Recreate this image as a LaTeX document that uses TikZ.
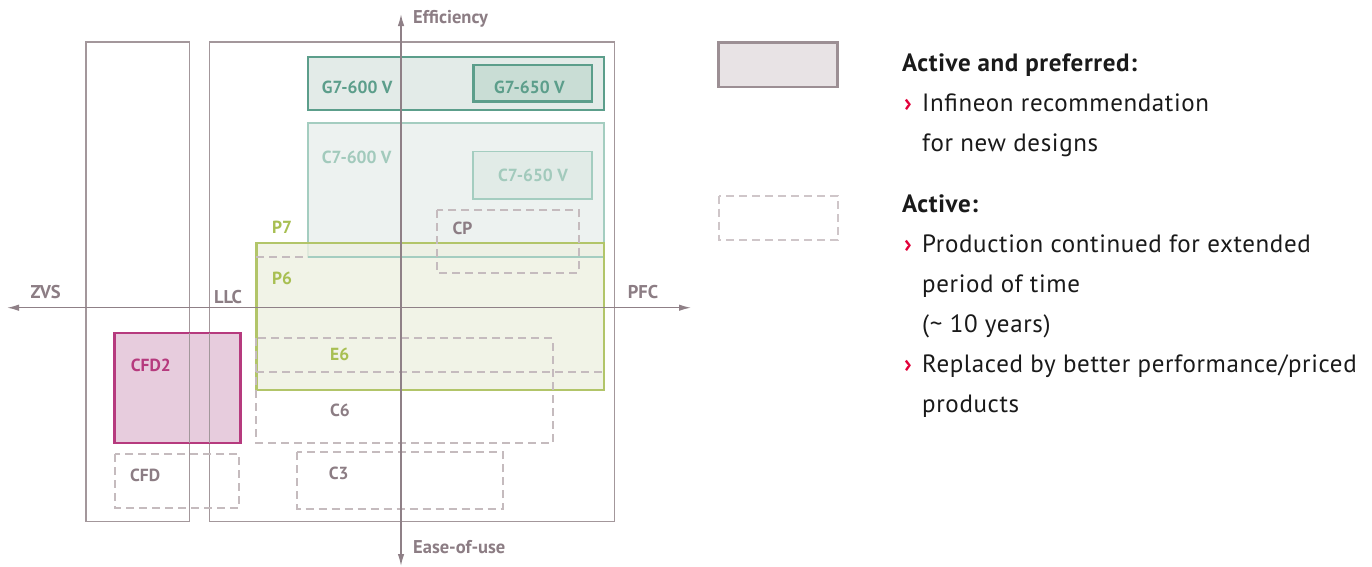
\documentclass[tikz,border=0pt]{standalone}
\usepackage{fontspec}
\setmainfont{PT Sans}
\newfontfamily\legfont{PT Sans}[LetterSpace=2.5]
\usetikzlibrary{arrows.meta}

\definecolor{frameline}{HTML}{A3979B}
\definecolor{axisline}{HTML}{8F8087}
\definecolor{greytext}{HTML}{8C7D84}
\definecolor{gsevstroke}{HTML}{5C9E8B}
\definecolor{gsevfill}{HTML}{E3EBE8}
\definecolor{gsevinner}{HTML}{C9DDD5}
\definecolor{csevstroke}{HTML}{A4CDC0}
\definecolor{csevfill}{HTML}{EDF2F0}
\definecolor{csevinner}{HTML}{E1EBE7}
\definecolor{csevtext}{HTML}{A2CABC}
\definecolor{pstroke}{HTML}{B2C569}
\definecolor{pfill}{HTML}{EEF0E2}
\definecolor{ptext}{HTML}{A8BF52}
\definecolor{cfdstroke}{HTML}{B63A7E}
\definecolor{cfdfill}{HTML}{E3C4D8}
\definecolor{dashline}{HTML}{C5BBBE}
\definecolor{legfill}{HTML}{E8E3E5}
\definecolor{legstroke}{HTML}{9C8F94}
\definecolor{legdash}{HTML}{CFC6C9}
\definecolor{bodytext}{HTML}{1A1A1A}
\definecolor{chevron}{HTML}{E2003A}

\tikzset{
  frame/.style={draw=frameline, line width=1.4pt},
  axis/.style={draw=axisline, line width=1.4pt, -{Latex[length=12pt,width=6.5pt]}},
  solidbox/.style={line width=2.3pt},
  dashbox/.style={draw=dashline, line width=2pt, dash pattern=on 8pt off 5pt},
  lab/.style={inner sep=0pt, anchor=base west, font=\bfseries\fontsize{17.5}{20}\selectfont},
  axlab/.style={lab, text=greytext, font=\bfseries\fontsize{18.5}{21}\selectfont},
  legtext/.style={inner sep=0pt, anchor=base west, text=bodytext, font=\legfont\fontsize{25}{29}\selectfont},
  leghead/.style={legtext, font=\legfont\bfseries\fontsize{25}{29}\selectfont},
  chev/.style={inner sep=0pt, anchor=base west, text=chevron, font=\bfseries\fontsize{25}{29}\selectfont}
}

\begin{document}
\begin{tikzpicture}[x=1pt, y=-1pt]
\useasboundingbox (0,0) rectangle (1372,566);
\fill[white] (0,0) rectangle (1372,566);

% topology frames
\draw[frame] (86,42) rectangle (189.5,521.5);
\draw[frame] (209.5,42) rectangle (614.5,521.5);

% CFD2 (active and preferred)
\draw[solidbox, draw=cfdstroke, fill=cfdfill, fill opacity=0.85] (114.5,333) rectangle (240.5,443);

% G7 family
\draw[solidbox, draw=gsevstroke, fill=gsevfill] (308,57) rectangle (604,110);
\draw[solidbox, draw=gsevstroke, fill=gsevinner] (473.5,65) rectangle (592,101.5);

% C7 family
\draw[line width=2pt, draw=csevstroke, fill=csevfill] (307.5,123) rectangle (604,257);
\draw[line width=1.8pt, draw=csevstroke, fill=csevinner] (472.6,151.5) rectangle (591.6,199.3);

% P7 block (semi-transparent so the C7 edge shows through)
\fill[pfill, fill opacity=0.8] (256.4,243.3) rectangle (604,390);
\draw[line width=2pt, draw=csevstroke] (307.5,257) -- (604,257);
\draw[line width=2.2pt, draw=pstroke] (256.4,243.3) rectangle (604,390);

% frame lines visible across the CFD2 box
\draw[frame] (189.5,333) -- (189.5,443);
\draw[frame] (209.5,333) -- (209.5,443);

% active (dashed) boxes
\draw[dashbox] (437,210) rectangle (579,272.7);
\draw[dashbox] (256.4,257) -- (307.5,257);
\draw[dashbox] (256.4,372.3) -- (604,372.3);
\draw[dashbox] (256.4,338.3) rectangle (552.8,443.3);
\draw[dashbox] (115,454) rectangle (239.4,507.7);
\draw[dashbox] (297.4,452.3) rectangle (502.9,509);

% axes
\coordinate (ytop) at (401,14);
\coordinate (ybot) at (401,566);
\coordinate (xleft) at (7,307.7);
\coordinate (xright) at (691,307.7);
\coordinate (yctr) at (401,307.7);
\draw[axis] (yctr) -- (ytop);
\draw[axis] (yctr) -- (ybot);
\draw[axis] (yctr) -- (xleft);
\draw[axis] (yctr) -- (xright);

% axis labels
\node[axlab] (eff) at (413,23.3) {Efficiency};
\node[axlab] (ease) at (413,553.3) {Ease-of-use};
\node[axlab] (zvs) at (30.3,298) {ZVS};
\node[axlab] (llc) at (214,303) {LLC};
\node[axlab] (pfc) at (627.7,298) {PFC};

% product labels
\node[lab, text=gsevstroke] (g7a) at (321.7,93.3) {G7-600 V};
\node[lab, text=gsevstroke] (g7b) at (494,93.3) {G7-650 V};
\node[lab, text=csevtext] (c7a) at (321.7,163.3) {C7-600 V};
\node[lab, text=csevtext] (c7b) at (498,181.7) {C7-650 V};
\node[lab, text=greytext] (cp) at (452.5,234) {CP};
\node[lab, text=ptext] (p7) at (272,233) {P7};
\node[lab, text=ptext] (p6) at (272,284) {P6};
\node[lab, text=ptext] (e6) at (330,360.7) {E6};
\node[lab, text=greytext] (c6) at (330,416) {C6};
\node[lab, text=cfdstroke] (cfd2) at (130.7,371.7) {CFD2};
\node[lab, text=greytext] (cfd) at (130,481) {CFD};
\node[lab, text=greytext] (c3) at (328.6,479) {C3};

% legend
\draw[line width=2.8pt, draw=legstroke, fill=legfill] (718.5,42.5) rectangle (837.5,87);
\draw[dashbox, draw=legdash] (718.5,195.5) rectangle (837.5,240);

\node[leghead] (h1) at (902,71) {Active and preferred:};
\node[chev] (b1) at (904,111) {›};
\node[legtext] (t1) at (922,111) {Infineon recommendation};
\node[legtext] (t1b) at (922,151) {for new designs};
\node[leghead] (h2) at (902,212) {Active:};
\node[chev] (b2) at (904,252) {›};
\node[legtext] (t2) at (922,252) {Production continued for extended};
\node[legtext] (t2b) at (922,292) {period of time};
\node[legtext] (t2c) at (922,332) {(\textasciitilde\ 10 years)};
\node[chev] (b3) at (904,372) {›};
\node[legtext] (t3) at (922,372) {Replaced by better performance/priced};
\node[legtext] (t3b) at (922,412) {products};
\end{tikzpicture}
\end{document}
